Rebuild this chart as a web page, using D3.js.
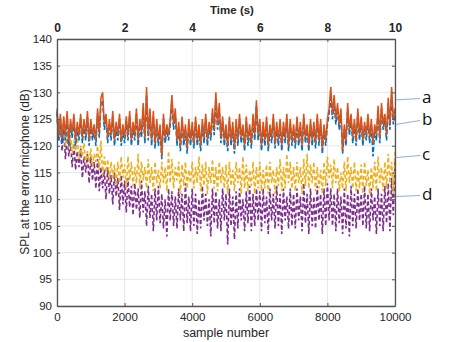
<!DOCTYPE html>
<html><head><meta charset="utf-8">
<script src="https://cdn.jsdelivr.net/npm/d3@7/dist/d3.min.js"></script>
<style>body{margin:0;background:#fff}svg{display:block}</style>
</head><body><svg id="c" width="472" height="342"></svg>
<script>
const step = 50;
const seriesA = [127,122,126,121.5,125.5,122,126.5,121,125,122.5,126,121,124.5,122,126,121.5,125,122,126.5,121,
125,122,124,121,127,122.5,129,130,124,126,121.5,125,122,126.5,121,124.5,122,126,121,124,
121.5,125.5,122,126.5,121,124.5,122,127,121,125,122.5,128,121.5,131,122,127,121,126.5,120.5,125,
121,124,118,126,121.5,124,122,125,129.5,124,127,121,124.5,120,125.5,121,124,119.5,125,121,
124.5,120.5,125.5,121,124,120,125,121.5,126,121,124.5,122,127,123,130,124,128,121.5,125.5,121,
124,120,125.5,121,124.5,119.5,125,121,126,121.5,124,120,125.5,121,124,120.5,126,122,128.5,122,
125,120,124.5,121,125.5,120,124,121.5,126,120.5,124.5,121,125,120,124.5,121.5,126,120,125,121,
124,120.5,125.5,121,124.5,120,126,121.5,124,120,125,121,124.5,120.5,126,121,125,119.5,124,121,
125,127,131,126,129.5,125,128,124,127,119,124,121,128,123,126,121.5,125,121,127,122,
125.5,121,124.5,122,126,121.5,125,120.5,124,122,127.5,121.5,128,124,126,122,129,124,131,125,
127];
const seriesB = [126.5,121,125,120.5,124.5,121,125.5,120,124,121.5,125,120,123.5,121,125,120.5,124,121,125.5,120,
124,121,123,120,126,121.5,128,128.5,123,125,120.5,124,121,125.5,120,123.5,121,125,120,123,
120.5,124.5,121,125.5,120,123.5,121,126,120,124,121.5,127,120.5,129.5,121,126,120,125.5,119.5,124,
120,123,117.5,125,120.5,123,121,124,128.5,123,126,120,123.5,119,124.5,120,123,118.5,124,120,
123.5,119.5,124.5,120,123,119,124,120.5,125,120,123.5,121,126,122,129,123,127,120.5,124.5,120,
123,119,124.5,120,123.5,118.5,124,120,125,120.5,123,119,124.5,120,123,119.5,125,121,127.5,121,
124,119,123.5,120,124.5,119,123,120.5,125,119.5,123.5,120,124,119,123.5,120.5,125,119,124,120,
123,119.5,124.5,120,123.5,119,125,120.5,123,119,124,120,123.5,119.5,125,120,124,118.5,123,120,
124,126,129.5,125,128,124,127,123,126,118.5,123,120,127,122,125,120.5,124,120,126,121,
124.5,120,123.5,121,125,120.5,124,118,123,121,126.5,120.5,127,123,125,121,128,123,129.5,124,
126];
const seriesC = [125,122,124,121,123.5,120,122.5,119.5,122,118.5,121,119,121.5,117.5,120,118,120.5,116.5,119,117,
119.5,116,118.5,117,120,115.5,121,114.5,118,115,117.5,113.5,117,114,116.5,112.5,117,113,118,114,
116.5,112,118,113.5,117,112.5,116,113,118.5,112,117,113.5,116,112,117.5,113,116,111.5,117,113,
115.5,112,117,113,116,111.5,119,113,117.5,112,116,113.5,117,111,116.5,112.5,117,112,115.5,113,
117,112,116,113,118,111.5,116.5,112.5,117,111,116,113,117.5,112,116,111.5,117,113,116,112,
116.5,111,117,112.5,115.5,111.5,117,113,116,111,118,112,116.5,111.5,115.5,112.5,117,111,116,112,
117,111.5,115.5,112,116.5,111,117,113,115.5,111,116,112.5,117.5,111.5,116,112,118.5,113,117,112,
116,111.5,117,113,116,111,117.5,112.5,118.5,112,116.5,113,117,111.5,116,112,115.5,111,117,112.5,
118,114,116.5,112,117.5,113,116,111.5,115,112,117,111.5,118,113,116,112,117,111.5,115.5,112,
116.5,111,117,112.5,115.5,111,116,112,117,111.5,118,113,116,111.5,117,112,118.5,113,117,111,
119];
const seriesD = [126,121,124,119,123,117.5,122,118,121,116,120.5,115.5,119,116,119.5,114,118,115,118.5,113,
118,113.5,117,112,117.5,111.5,116,112,115.5,110,116,111,114.5,109,115,110.5,114,108,114.5,109,
113.5,107.5,114,108.5,112.5,107,113,108,112,106.5,113.5,107.5,111.5,105,112.5,106.5,111,104,112,106,
112.5,105.5,111,104.5,110,103,112,106,111.5,105,110.5,104.5,112,106,111,104,113,105.5,110.5,104,
112,105,111,103.5,110,104.5,112.5,106,111,105,110,103,112,105.5,111.5,104.5,110,104,112,106,
111,101.5,112,105,110.5,102.5,111.5,104.5,112,106,110,104,111.5,105.5,112.5,104,111,105,112,106,
111.5,104,112,105.5,110.5,103.5,112,106,111,104.5,112.5,105,111,103.5,112,106,110.5,104.5,112,105,
111,104.5,112,106,110.5,104,113,105.5,111,103.5,112,105,110.5,104.5,112.5,106,111,103.5,112,105,
113,106,112,105,111,104,112,105.5,110.5,103.5,112,104.5,111,103,112.5,105,111,104.5,112,106,
111,105,112.5,104.5,111,104,112,106,110.5,103.5,112,105,111,104,112.5,105.5,113,104,114,107,
117];
const yTicks = [90,95,100,105,110,115,120,125,130,135,140];
const xTicks = [0,2000,4000,6000,8000,10000];
const tTicks = [0,2,4,6,8,10];
const labelNames = ["a","b","c","d"];
const labelY = [128.6, 124.0, 117.8, 110.5];

const svg = d3.select("#c");
const L=57, R=395, T=39, B=306;
const x = d3.scaleLinear().domain([0,10000]).range([L,R]);
const xt = d3.scaleLinear().domain([0,10]).range([L,R]);
const y = d3.scaleLinear().domain([90,140]).range([B,T]);
const font = "'Liberation Sans', Arial, sans-serif";

// grid
svg.append("g").selectAll("line").data(yTicks).join("line")
  .attr("x1",L).attr("x2",R).attr("y1",d=>y(d)).attr("y2",d=>y(d))
  .attr("stroke","#e6e6e6").attr("stroke-width",1);
svg.append("g").selectAll("line").data(xTicks).join("line")
  .attr("y1",T).attr("y2",B).attr("x1",d=>x(d)).attr("x2",d=>x(d))
  .attr("stroke","#e6e6e6").attr("stroke-width",1);

const line = d3.line().x((d,i)=>x(i*step)).y(d=>y(d));
const plot = svg.append("g");
plot.append("path").datum(seriesD).attr("d",line).attr("fill","none")
  .attr("stroke","#7E2F8E").attr("stroke-width",1.6).attr("stroke-dasharray","4,2.5");
plot.append("path").datum(seriesC).attr("d",line).attr("fill","none")
  .attr("stroke","#EDB120").attr("stroke-width",1.6).attr("stroke-dasharray","4,2.5");
plot.append("path").datum(seriesB).attr("d",line).attr("fill","none")
  .attr("stroke","#0072BD").attr("stroke-width",1.6).attr("stroke-dasharray","5,2");
plot.append("path").datum(seriesA).attr("d",line).attr("fill","none")
  .attr("stroke","#D95319").attr("stroke-width",1.5);

// axes (MATLAB-like box, inward ticks)
const axCol = "#555";
const gB = svg.append("g").attr("transform",`translate(0,${B})`)
  .call(d3.axisBottom(x).tickValues(xTicks).tickFormat(d3.format("d")).tickSizeInner(-3).tickSizeOuter(0).tickPadding(7));
const gT = svg.append("g").attr("transform",`translate(0,${T})`)
  .call(d3.axisTop(xt).tickValues(tTicks).tickFormat(d3.format("d")).tickSizeInner(-3).tickSizeOuter(0).tickPadding(7));
const gL = svg.append("g").attr("transform",`translate(${L},0)`)
  .call(d3.axisLeft(y).tickValues(yTicks).tickSizeInner(-3).tickSizeOuter(0).tickPadding(5));
const gR = svg.append("g").attr("transform",`translate(${R},0)`)
  .call(d3.axisRight(y).tickValues(yTicks).tickSizeInner(-3).tickSizeOuter(0).tickFormat(""));
[gB,gT,gL,gR].forEach(g=>{
  g.select(".domain").attr("stroke",axCol).attr("stroke-width",1.3);
  g.selectAll(".tick line").attr("stroke",axCol);
  g.selectAll("text").attr("fill","#262626").style("font-family",font).style("font-size","11.5px");
});
gT.selectAll("text").style("font-weight","bold").style("font-size","12px");

svg.append("text").attr("x",232).attr("y",14).attr("text-anchor","middle")
  .style("font-family",font).style("font-size","11.5px").style("font-weight","bold").attr("fill","#262626").text("Time (s)");
svg.append("text").attr("x",226).attr("y",337).attr("text-anchor","middle")
  .style("font-family",font).style("font-size","12.5px").attr("fill","#262626").text("sample number");
svg.append("text").attr("transform","translate(29,172) rotate(-90)").attr("text-anchor","middle")
  .style("font-family",font).style("font-size","12px").attr("fill","#262626").text("SPL at the error micphone (dB)");

// annotations
const labTextY = [98, 120, 155, 195];
labelNames.forEach((n,i)=>{
  svg.append("line").attr("x1",R+1).attr("y1",y(labelY[i])).attr("x2",420).attr("y2",labTextY[i]+0.5)
    .attr("stroke","#8fb0d8").attr("stroke-width",1);
  svg.append("text").attr("x",422).attr("y",labTextY[i]+5).style("font-family","'Open Sans', sans-serif")
    .style("font-size","17px").attr("fill","#111").text(n);
});
</script></body></html>
